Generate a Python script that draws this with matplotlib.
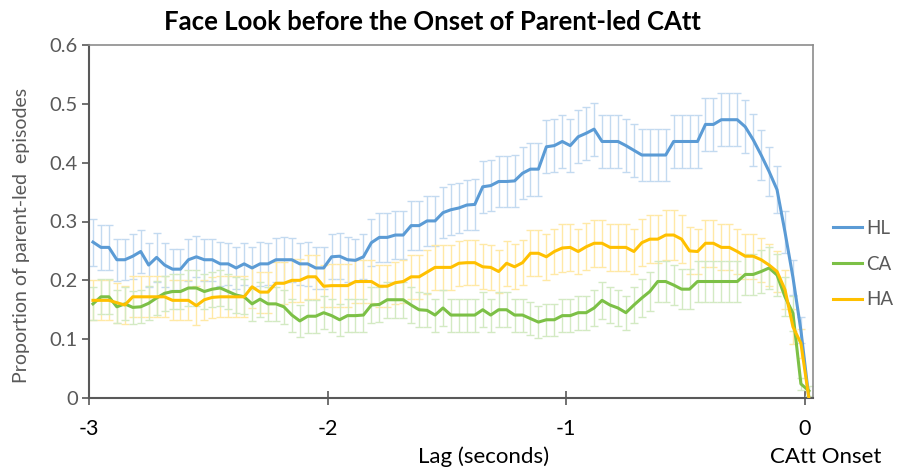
import numpy as np
import matplotlib
matplotlib.use("Agg")
import matplotlib.pyplot as plt

# ---- data ----
frame_idx = np.arange(91)
lag = -3 + (frame_idx + 0.5) / 30.0   # seconds

HL = [0.265, 0.256, 0.256, 0.235, 0.235, 0.241, 0.249, 0.226, 0.239, 0.226,
      0.219, 0.219, 0.235, 0.240, 0.235, 0.235, 0.228, 0.228, 0.221, 0.228,
      0.221, 0.228, 0.228, 0.235, 0.235, 0.235, 0.228, 0.228, 0.221, 0.221,
      0.240, 0.241, 0.235, 0.234, 0.240, 0.264, 0.273, 0.273, 0.277, 0.277,
      0.293, 0.293, 0.301, 0.301, 0.315, 0.320, 0.323, 0.328, 0.329, 0.359,
      0.361, 0.368, 0.368, 0.369, 0.382, 0.389, 0.389, 0.427, 0.429, 0.436,
      0.429, 0.444, 0.450, 0.457, 0.436, 0.436, 0.436, 0.429, 0.421, 0.413,
      0.413, 0.413, 0.413, 0.436, 0.436, 0.436, 0.436, 0.465, 0.465, 0.473,
      0.473, 0.473, 0.461, 0.439, 0.413, 0.385, 0.354, 0.282, 0.205, 0.115,
      0.0]

CA = [0.160, 0.172, 0.172, 0.155, 0.160, 0.154, 0.155, 0.161, 0.170, 0.178,
      0.181, 0.181, 0.187, 0.187, 0.181, 0.185, 0.187, 0.181, 0.175, 0.172,
      0.160, 0.168, 0.160, 0.160, 0.155, 0.141, 0.131, 0.139, 0.139, 0.145,
      0.140, 0.133, 0.140, 0.140, 0.141, 0.158, 0.159, 0.167, 0.167, 0.167,
      0.158, 0.150, 0.149, 0.141, 0.153, 0.141, 0.141, 0.141, 0.141, 0.150,
      0.141, 0.150, 0.150, 0.141, 0.141, 0.135, 0.129, 0.133, 0.133, 0.140,
      0.140, 0.145, 0.145, 0.153, 0.166, 0.158, 0.153, 0.145, 0.158, 0.170,
      0.181, 0.198, 0.198, 0.192, 0.185, 0.185, 0.198, 0.198, 0.198, 0.198,
      0.198, 0.198, 0.210, 0.210, 0.215, 0.221, 0.209, 0.172, 0.144, 0.024,
      0.012]

HA = [0.166, 0.166, 0.166, 0.162, 0.158, 0.172, 0.172, 0.172, 0.172, 0.172,
      0.166, 0.166, 0.166, 0.157, 0.167, 0.171, 0.172, 0.172, 0.172, 0.172,
      0.189, 0.180, 0.180, 0.195, 0.195, 0.200, 0.200, 0.206, 0.206, 0.190,
      0.191, 0.191, 0.191, 0.198, 0.198, 0.198, 0.190, 0.190, 0.196, 0.198,
      0.206, 0.206, 0.214, 0.222, 0.222, 0.222, 0.229, 0.230, 0.230, 0.223,
      0.222, 0.215, 0.229, 0.223, 0.230, 0.246, 0.246, 0.240, 0.249, 0.255,
      0.256, 0.249, 0.257, 0.263, 0.263, 0.256, 0.256, 0.256, 0.249, 0.264,
      0.270, 0.270, 0.277, 0.277, 0.270, 0.250, 0.249, 0.263, 0.263, 0.256,
      0.256, 0.249, 0.241, 0.241, 0.235, 0.226, 0.215, 0.184, 0.121, 0.093,
      0.0]

HL_err = [0.040, 0.038, 0.038, 0.036, 0.035, 0.038, 0.037, 0.037, 0.041, 0.037,
          0.035, 0.035, 0.036, 0.035, 0.036, 0.036, 0.037, 0.036, 0.035, 0.036,
          0.035, 0.037, 0.036, 0.037, 0.038, 0.037, 0.036, 0.037, 0.035, 0.036,
          0.038, 0.039, 0.038, 0.037, 0.038, 0.040, 0.041, 0.041, 0.041, 0.041,
          0.042, 0.042, 0.042, 0.042, 0.043, 0.043, 0.043, 0.043, 0.043, 0.044,
          0.044, 0.044, 0.044, 0.044, 0.044, 0.045, 0.045, 0.045, 0.045, 0.045,
          0.045, 0.045, 0.045, 0.045, 0.045, 0.045, 0.045, 0.045, 0.045, 0.045,
          0.045, 0.045, 0.045, 0.045, 0.045, 0.045, 0.045, 0.045, 0.045, 0.045,
          0.045, 0.045, 0.045, 0.044, 0.043, 0.042, 0.040, 0.036, 0.030, 0.022,
          0.0]

CA_err = [0.028, 0.030, 0.030, 0.028, 0.028, 0.028, 0.028, 0.029, 0.029, 0.030,
          0.030, 0.030, 0.031, 0.031, 0.030, 0.030, 0.031, 0.030, 0.030, 0.030,
          0.029, 0.030, 0.029, 0.029, 0.029, 0.028, 0.027, 0.028, 0.028, 0.028,
          0.028, 0.027, 0.028, 0.028, 0.028, 0.030, 0.030, 0.031, 0.031, 0.031,
          0.030, 0.030, 0.029, 0.028, 0.030, 0.028, 0.028, 0.028, 0.028, 0.030,
          0.028, 0.030, 0.030, 0.028, 0.028, 0.028, 0.027, 0.027, 0.027, 0.028,
          0.028, 0.029, 0.029, 0.030, 0.031, 0.030, 0.030, 0.029, 0.030, 0.032,
          0.033, 0.035, 0.035, 0.034, 0.034, 0.034, 0.035, 0.035, 0.035, 0.035,
          0.035, 0.035, 0.035, 0.035, 0.036, 0.036, 0.035, 0.033, 0.030, 0.010,
          0.008]

HA_err = [0.034, 0.034, 0.034, 0.034, 0.033, 0.035, 0.035, 0.035, 0.035, 0.035,
          0.034, 0.034, 0.034, 0.033, 0.034, 0.035, 0.035, 0.035, 0.035, 0.035,
          0.036, 0.035, 0.035, 0.036, 0.036, 0.036, 0.036, 0.037, 0.037, 0.036,
          0.036, 0.036, 0.036, 0.036, 0.036, 0.036, 0.036, 0.036, 0.036, 0.036,
          0.037, 0.037, 0.037, 0.038, 0.038, 0.038, 0.038, 0.038, 0.038, 0.038,
          0.038, 0.037, 0.038, 0.038, 0.038, 0.039, 0.039, 0.039, 0.039, 0.040,
          0.040, 0.039, 0.040, 0.040, 0.040, 0.040, 0.040, 0.040, 0.039, 0.040,
          0.041, 0.041, 0.042, 0.042, 0.041, 0.040, 0.039, 0.040, 0.040, 0.039,
          0.039, 0.039, 0.038, 0.038, 0.037, 0.036, 0.035, 0.033, 0.030, 0.025,
          0.0]

series_names = ["HL", "CA", "HA"]
x_ticks = [-3, -2, -1, 0]
x_tick_labels = ["-3", "-2", "-1", "0"]
y_ticks = [0, 0.1, 0.2, 0.3, 0.4, 0.5, 0.6]
y_tick_labels = ["0", "0.1", "0.2", "0.3", "0.4", "0.5", "0.6"]

# ---- styling ----
plt.rcParams['font.family'] = ['Lato', 'DejaVu Sans']
line_colors = {"HL": "#5B9BD5", "CA": "#7CC046", "HA": "#FFC000"}
err_colors = {"HL": "#C3DAF0", "CA": "#D3EAC3", "HA": "#FFE9A6"}
text_gray = "#595959"

fig = plt.figure(figsize=(9.04, 4.70), dpi=100)
ax = fig.add_axes([89/904, 1-398/470, (813-89)/904, (398-45)/470])

data = {"HL": (HL, HL_err), "CA": (CA, CA_err), "HA": (HA, HA_err)}

for name in ["HL", "HA", "CA"]:
    y, e = data[name]
    ax.errorbar(lag, y, yerr=e, fmt='none', ecolor=err_colors[name],
                elinewidth=1.0, capsize=3, capthick=1.0, zorder=2)
handles = []
for name in series_names:
    y, e = data[name]
    ln, = ax.plot(lag, y, color=line_colors[name], lw=2.2, zorder=3,
                  solid_joinstyle='round', label=name)
    handles.append(ln)

ax.set_xlim(-3, 0.034)
ax.set_ylim(0, 0.6)
ax.set_xticks(x_ticks)
ax.set_xticklabels(x_tick_labels, fontsize=15.5, color="black")
ax.set_yticks(y_ticks)
ax.set_yticklabels(y_tick_labels, fontsize=14.5, color=text_gray)
ax.tick_params(axis='x', direction='inout', length=10, width=1.2,
               color="#595959", pad=10)
ax.tick_params(axis='y', direction='out', length=5, width=1.2,
               color="#595959", pad=3)

for side in ["left", "bottom"]:
    ax.spines[side].set_color("#595959")
    ax.spines[side].set_linewidth(1.5)
for side in ["top", "right"]:
    ax.spines[side].set_color("#8C8C8C")
    ax.spines[side].set_linewidth(1.2)

ax.set_ylabel("Proportion of parent-led  episodes", fontsize=14,
              color=text_gray)
ax.yaxis.set_label_coords(30/904, 0.5, transform=fig.transFigure)

fig.text(432/904, 1-22/470, "Face Look before the Onset of Parent-led CAtt",
         ha='center', va='center', fontsize=18.5, fontweight='bold', color='black')
fig.text(484/904, 1-457/470, "Lag (seconds)", ha='center', va='center',
         fontsize=16, color='black')
fig.text(826/904, 1-457/470, "CAtt Onset", ha='center', va='center',
         fontsize=16, color='black')

leg = fig.legend(handles=handles, labels=series_names,
                 loc='center left', bbox_to_anchor=(833/904, 1-264/470),
                 frameon=False, fontsize=13.5, handlelength=1.55,
                 labelspacing=1.0, handletextpad=0.2, borderpad=0,
                 borderaxespad=0)
for t in leg.get_texts():
    t.set_color(text_gray)

fig.savefig("out.png", dpi=100)
